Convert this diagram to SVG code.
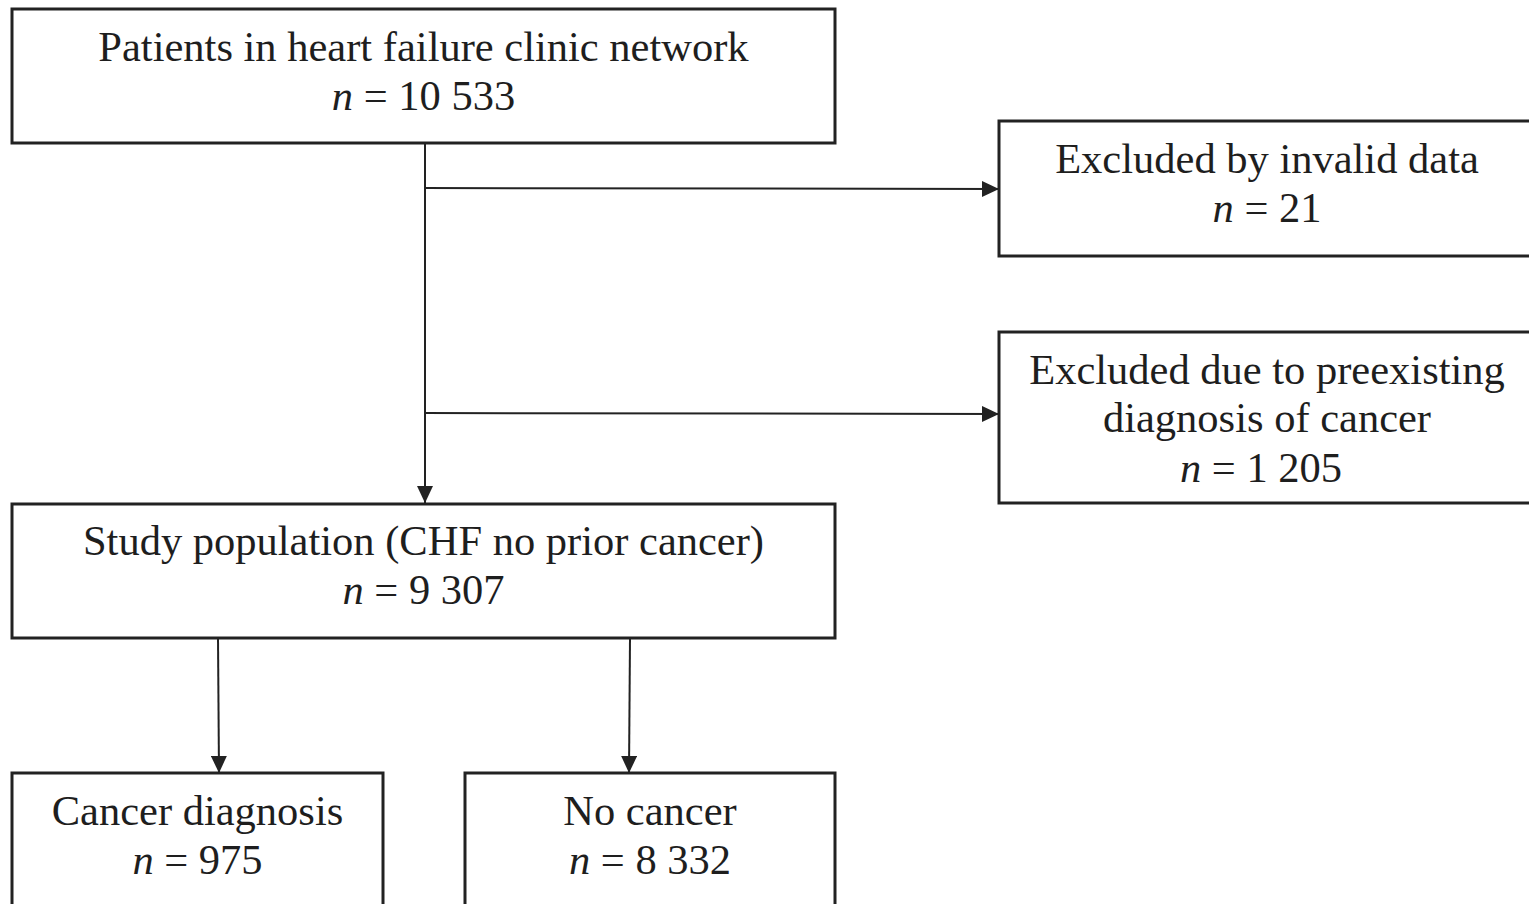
<svg xmlns="http://www.w3.org/2000/svg" width="1529" height="904" viewBox="0 0 1529 904">
<style>
.box{fill:#fff;stroke:#222;stroke-width:3}
.t{font-family:"Liberation Serif","Times New Roman",serif;font-size:42.5px;fill:#1e1e1e;text-anchor:middle}
.i{font-style:italic}
.c{stroke:#222;stroke-width:2;fill:none}
</style>
<defs>
<marker id="ah" markerWidth="17" markerHeight="16" refX="17" refY="8" orient="auto" markerUnits="userSpaceOnUse">
<path d="M0,0 L17,8 L0,16 Z" fill="#222"/>
</marker>
</defs>
<rect width="1529" height="904" fill="#fff"/>
<g id="connectors">
<line class="c" x1="425" y1="143" x2="425" y2="503" marker-end="url(#ah)"/>
<line class="c" x1="425" y1="188" x2="999" y2="189" marker-end="url(#ah)"/>
<line class="c" x1="425" y1="413" x2="999" y2="414" marker-end="url(#ah)"/>
<line class="c" x1="218" y1="638" x2="219" y2="773" marker-end="url(#ah)"/>
<line class="c" x1="630" y1="638" x2="629" y2="773" marker-end="url(#ah)"/>
</g>
<g id="n-patients">
<rect class="box" x="12" y="9" width="823" height="134"/>
<text class="t" x="423.5" y="61">Patients in heart failure clinic network</text>
<text class="t" x="423.5" y="110"><tspan class="i">n</tspan> = 10 533</text>
</g>
<g id="n-invalid">
<rect class="box" x="999" y="121" width="540" height="135"/>
<text class="t" x="1267" y="173">Excluded by invalid data</text>
<text class="t" x="1267" y="222"><tspan class="i">n</tspan> = 21</text>
</g>
<g id="n-preexisting">
<rect class="box" x="999" y="332" width="540" height="171"/>
<text class="t" x="1267" y="384">Excluded due to preexisting</text>
<text class="t" x="1267" y="432">diagnosis of cancer</text>
<text class="t" x="1261" y="482"><tspan class="i">n</tspan> = 1 205</text>
</g>
<g id="n-study">
<rect class="box" x="12" y="504" width="823" height="134"/>
<text class="t" x="423.5" y="555">Study population (CHF no prior cancer)</text>
<text class="t" x="423.5" y="604"><tspan class="i">n</tspan> = 9 307</text>
</g>
<g id="n-cancer">
<rect class="box" x="12" y="773" width="371" height="150"/>
<text class="t" x="197.5" y="825">Cancer diagnosis</text>
<text class="t" x="197.5" y="874"><tspan class="i">n</tspan> = 975</text>
</g>
<g id="n-nocancer">
<rect class="box" x="465" y="773" width="370" height="150"/>
<text class="t" x="650" y="825">No cancer</text>
<text class="t" x="650" y="874"><tspan class="i">n</tspan> = 8 332</text>
</g>
</svg>
